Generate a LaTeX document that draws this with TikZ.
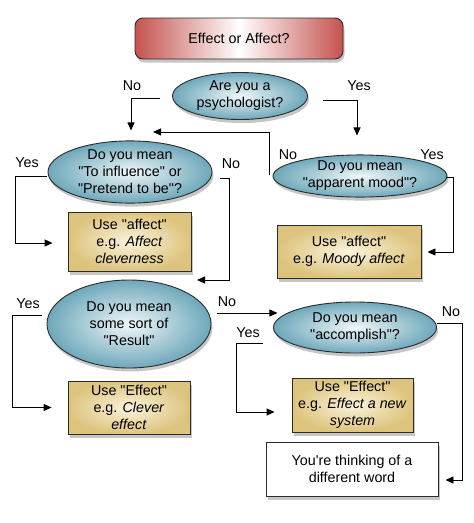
\documentclass[tikz,border=0pt]{standalone}
\usepackage{fontspec}
\setmainfont{Liberation Sans}[Ligatures=TeXOff]
\usetikzlibrary{shapes.geometric,shadows,arrows.meta}
\definecolor{edgeblue}{HTML}{6EA8BA}
\definecolor{coreblue}{HTML}{F0F7F9}
\definecolor{edgetan}{HTML}{DDC47E}
\definecolor{coretan}{HTML}{FAF3DC}
\definecolor{titlered}{HTML}{C4534F}
\definecolor{linegray}{HTML}{2B2B2B}
\tikzset{
  base/.style={draw=linegray, line width=0.9pt, align=center, inner sep=0pt,
    font=\fontsize{14.3}{17}\selectfont,
    drop shadow={shadow xshift=1.5pt, shadow yshift=-3.5pt, opacity=0.45}},
  question/.style={base, ellipse, shading=radial, inner color=coreblue, outer color=edgeblue},
  answer/.style={base, rectangle, shading=radial, inner color=coretan, outer color=edgetan},
  plainbox/.style={base, rectangle, fill=white},
  titlebox/.style={base, rectangle, rounded corners=8pt, left color=titlered, right color=titlered, middle color=white},
  lbl/.style={font=\fontsize{14.3}{17}\selectfont, inner sep=0pt},
  arr/.style={draw=black, line width=0.9pt, -{Triangle[length=8pt,width=7pt]}}
}
\begin{document}
\begin{tikzpicture}[x=1pt,y=-1pt]
\useasboundingbox (0,0) rectangle (474,523);
% nodes
\node[titlebox, minimum width=208pt, minimum height=41pt] (title) at (239,38.5) {Effect or Affect?};
\node[question, minimum width=135pt, minimum height=47pt] (psych) at (240,96) {Are you a\\psychologist?};
\node[question, minimum width=164pt, minimum height=50pt] (infl) at (130,172) {Do you mean\\"To influence" or\\"Pretend to be"?};
\node[question, minimum width=174pt, minimum height=41pt] (mood) at (360,176) {Do you mean\\"apparent mood"?};
\node[answer, minimum width=123pt, minimum height=59pt] (ans1) at (129.5,241.5) {Use "affect"\\e.g. \textit{Affect}\\\textit{cleverness}};
\node[answer, minimum width=144pt, minimum height=53pt] (ans2) at (349,251.5) {Use "affect"\\e.g. \textit{Moody affect}};
\node[question, minimum width=164pt, minimum height=88pt] (result) at (129,324) {Do you mean\\some sort of\\"Result"};
\node[question, minimum width=163pt, minimum height=51pt] (accomp) at (355,327.5) {Do you mean\\"accomplish"?};
\node[answer, minimum width=122pt, minimum height=53pt] (ans3) at (129,407.5) {Use "Effect"\\e.g. \textit{Clever}\\\textit{effect}};
\node[answer, minimum width=121pt, minimum height=54pt] (ans4) at (352.5,405) {Use "Effect"\\e.g. \textit{Effect a new}\\\textit{system}};
\node[plainbox, minimum width=172pt, minimum height=54pt] (other) at (352,469) {You're thinking of a\\different word};
% labels
\node[lbl] (l1) at (132,86) {No};
\node[lbl] (l2) at (359,86) {Yes};
\node[lbl] (l3) at (288,155) {No};
\node[lbl] (l4) at (432,155) {Yes};
\node[lbl] (l5) at (27,163) {Yes};
\node[lbl] (l6) at (231,164) {No};
\node[lbl] (l7) at (28,304) {Yes};
\node[lbl] (l8) at (227,302) {No};
\node[lbl] (l9) at (451,312) {No};
\node[lbl] (l10) at (248,333) {Yes};
% coordinates
\coordinate (resin) at (197,280);
\coordinate (accyes) at (263,343);
% connectors
\draw[arr] ([xshift=-12pt,yshift=-2pt]psych.west) -| ([xshift=1pt,yshift=10pt]infl.north);
\draw[arr] ([xshift=15pt,yshift=-4pt]psych.east) -| ([xshift=-3pt,yshift=19pt]mood.north);
\draw[arr] ([xshift=-3pt,yshift=1pt]mood.west) |- ([xshift=23pt,yshift=8.5pt]infl.north);
\draw[arr] ([xshift=-1pt,yshift=-4pt]infl.west) -- ++(-31,0) |- ([xshift=-15pt,yshift=-1.5pt]ans1.west);
\draw[arr] ([xshift=8pt,yshift=-6pt]infl.east) -- ++(9,0) |- (resin);
\draw[arr] ([xshift=-1pt,yshift=-1pt]mood.east) -- ++(7,0) |- ([xshift=6pt,yshift=-0.5pt]ans2.east);
\draw[arr] ([xshift=-5pt,yshift=9pt]result.west) -- ++(-29,0) |- ([xshift=-16pt]ans3.west);
\draw[arr] ([xshift=6pt,yshift=11pt]result.east) -- ++(60,0);
\draw[arr] ([xshift=0.5pt,yshift=4.5pt]accomp.east) -- ++(25,0) |- ([xshift=7pt,yshift=-11pt]other.east);
\draw[arr] (accyes) -- ++(-27,0) |- ([xshift=-17pt,yshift=-7pt]ans4.west);
\end{tikzpicture}
\end{document}
